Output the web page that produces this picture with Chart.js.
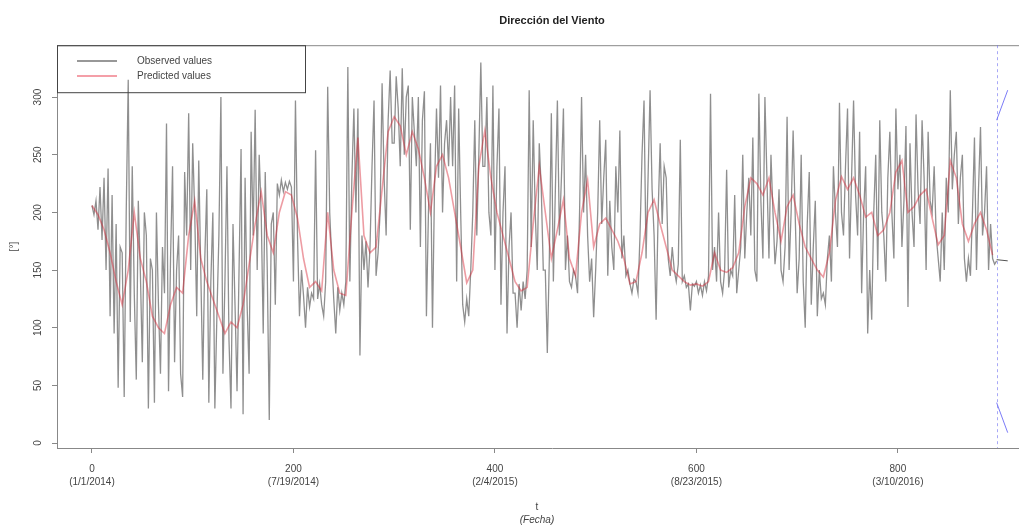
<!DOCTYPE html>
<html lang="es">
<head>
<meta charset="utf-8">
<title>Dirección del Viento</title>
<script src="https://cdn.jsdelivr.net/npm/chart.js@4.4.1/dist/chart.umd.min.js"></script>
<style>
html, body { margin: 0; padding: 0; background: #fff; overflow: hidden; }
#grafico { display: block; }
</style>
</head>
<body>
<canvas id="grafico" width="1104" height="525"></canvas>
<script>
var PASO_OBS = 2;
var PASO_PRED = 6;

// direccion observada (grados), un valor cada 2 dias desde t = 0
var observados = [
	206, 198, 210, 185, 222, 176, 230, 150, 238, 110, 215, 95, 190, 48, 170,
	165, 40, 200, 315, 105, 240, 130, 55, 210, 150, 70, 200, 180, 30, 160,
	150, 35, 200, 120, 60, 170, 130, 277, 45, 160, 240, 70, 150, 180, 60,
	40, 235, 180, 286, 150, 260, 200, 110, 245, 150, 55, 160, 220, 35, 140,
	200, 30, 110, 180, 300, 60, 140, 240, 90, 30, 190, 120, 45, 150, 255,
	25, 230, 120, 60, 270, 180, 289, 150, 250, 200, 95, 235, 150, 20, 190,
	200, 120, 225, 215, 228, 218, 226, 220, 227, 222, 140, 297, 180, 110, 150,
	128, 100, 135, 118, 130, 125, 254, 125, 138, 120, 110, 140, 309, 200, 160,
	125, 95, 135, 115, 130, 120, 140, 326, 140, 230, 290, 200, 290, 76, 180,
	150, 175, 135, 170, 240, 297, 145, 165, 200, 312, 230, 180, 280, 323, 260,
	260, 318, 290, 240, 325, 250, 300, 310, 185, 300, 270, 240, 300, 170, 280,
	305, 110, 200, 260, 100, 220, 290, 230, 310, 200, 260, 280, 240, 300, 240,
	310, 140, 290, 200, 120, 105, 125, 110, 150, 200, 280, 180, 250, 330, 240,
	240, 300, 200, 180, 310, 150, 240, 290, 120, 200, 240, 95, 170, 200, 130,
	130, 100, 138, 115, 140, 125, 150, 306, 170, 280, 200, 150, 260, 220, 150,
	150, 78, 160, 286, 140, 220, 297, 180, 230, 290, 150, 180, 140, 135, 150,
	145, 130, 200, 300, 200, 250, 180, 140, 160, 109, 150, 200, 280, 190, 230,
	263, 145, 210, 170, 150, 240, 200, 271, 160, 180, 145, 150, 138, 130, 142,
	140, 130, 180, 250, 297, 160, 230, 306, 220, 180, 107, 200, 260, 190, 240,
	230, 160, 145, 170, 150, 140, 155, 263, 140, 145, 135, 138, 115, 138, 136,
	140, 130, 137, 128, 140, 132, 145, 303, 150, 170, 140, 200, 140, 130, 150,
	237, 135, 150, 145, 215, 130, 150, 170, 250, 160, 200, 230, 180, 265, 150,
	140, 303, 210, 160, 300, 230, 160, 250, 200, 155, 175, 220, 150, 140, 170,
	283, 150, 200, 271, 200, 130, 160, 250, 140, 100, 190, 235, 120, 170, 210,
	110, 150, 125, 130, 120, 160, 180, 140, 240, 200, 170, 295, 200, 180, 240,
	290, 160, 230, 297, 215, 180, 270, 130, 200, 240, 95, 150, 107, 200, 250,
	150, 280, 200, 180, 140, 230, 270, 200, 160, 290, 220, 250, 170, 210, 275,
	118, 260, 200, 170, 285, 220, 190, 280, 230, 150, 270, 210, 200, 240, 180,
	160, 140, 200, 150, 230, 200, 306, 220, 250, 270, 190, 230, 250, 160, 140,
	160, 145, 200, 265, 150, 220, 274, 180, 200, 240, 150, 190, 160, 155, 158
];

// direccion predicha (grados), un valor cada 6 dias
var predichos = [
	206, 198, 185, 165, 140, 120, 150, 200, 160, 140,
	110, 100, 95, 120, 135, 130, 180, 210, 160, 140,
	125, 110, 95, 105, 100, 120, 155, 190, 218, 180,
	165, 200, 218, 215, 195, 160, 135, 140, 132, 200,
	150, 130, 128, 200, 265, 180, 165, 170, 220, 270,
	283, 275, 250, 270, 255, 230, 200, 240, 250, 230,
	200, 170, 139, 150, 240, 271, 230, 200, 180, 160,
	140, 132, 135, 190, 240, 200, 160, 185, 211, 160,
	145, 200, 228, 170, 190, 195, 185, 175, 160, 138,
	140, 165, 200, 211, 190, 170, 150, 145, 140, 137,
	138, 136, 140, 165, 150, 148, 152, 165, 205, 230,
	225, 215, 230, 200, 175, 205, 215, 190, 170, 160,
	150, 144, 165, 210, 231, 220, 230, 215, 196, 200,
	180, 185, 200, 235, 245, 200, 205, 215, 220, 195,
	172, 180, 245, 230, 190, 175, 190, 200, 185, 163
];

// pronostico al final de la serie
var tPronostico = [898, 909];
var pronMedia = [159, 158];
var pronSup = [280, 306];
var pronInf = [35, 9];
var tCorte = 898;

var ticksX = [0, 200, 400, 600, 800];
var fechasX = ['(1/1/2014)', '(7/19/2014)', '(2/4/2015)', '(8/23/2015)', '(3/10/2016)'];
var ticksY = [0, 50, 100, 150, 200, 250, 300];

var FONTE = '"Liberation Sans", Arial, sans-serif';

function aPuntos(valores, paso) {
	return valores.map(function(v, i) {
		return { x: i * paso, y: v };
	});
}

function paresPronostico(valores) {
	return valores.map(function(v, i) {
		return { x: tPronostico[i], y: v };
	});
}

// caja, etiquetas giradas y leyenda al estilo de R
var marcoR = {
	id: 'marcoR',
	afterDatasetsDraw: function(chart) {
		var ctx = chart.ctx;
		var area = chart.chartArea;
		var escalaX = chart.scales.x;
		var escalaY = chart.scales.y;

		ctx.save();
		ctx.strokeStyle = '#888';
		ctx.lineWidth = 1;
		ctx.beginPath();
		ctx.moveTo(area.left, area.top + 0.5);
		ctx.lineTo(area.right, area.top + 0.5);
		ctx.lineTo(area.right - 0.5, area.bottom);
		ctx.stroke();

		// linea de corte del pronostico
		var xc = Math.round(escalaX.getPixelForValue(tCorte)) + 0.5;
		ctx.strokeStyle = 'rgba(110,110,240,0.6)';
		ctx.setLineDash([3, 3]);
		ctx.beginPath();
		ctx.moveTo(xc, area.top);
		ctx.lineTo(xc, area.bottom);
		ctx.stroke();
		ctx.setLineDash([]);

		// etiquetas del eje y, verticales
		ctx.fillStyle = '#444';
		ctx.font = '10px ' + FONTE;
		ctx.textAlign = 'center';
		ctx.textBaseline = 'middle';
		ticksY.forEach(function(v) {
			var py = escalaY.getPixelForValue(v);
			ctx.save();
			ctx.translate(38, py);
			ctx.rotate(-Math.PI / 2);
			ctx.fillText(String(v), 0, 0);
			ctx.restore();
		});
		ctx.save();
		ctx.translate(14, (area.top + area.bottom) / 2);
		ctx.rotate(-Math.PI / 2);
		ctx.fillText('[°]', 0, 0);
		ctx.restore();

		// titulo del eje x
		ctx.fillText('t', 537, 507);
		ctx.font = 'italic 10px ' + FONTE;
		ctx.fillText('(Fecha)', 537, 520);

		// leyenda
		ctx.strokeStyle = '#444';
		ctx.strokeRect(area.left + 0.5, area.top + 0.5, 248, 47);
		ctx.lineWidth = 1.5;
		ctx.strokeStyle = 'rgba(60,60,60,0.7)';
		ctx.beginPath();
		ctx.moveTo(77, 61);
		ctx.lineTo(117, 61);
		ctx.stroke();
		ctx.strokeStyle = 'rgba(230,40,60,0.6)';
		ctx.beginPath();
		ctx.moveTo(77, 76);
		ctx.lineTo(117, 76);
		ctx.stroke();
		ctx.fillStyle = '#444';
		ctx.font = '10px ' + FONTE;
		ctx.textAlign = 'left';
		ctx.fillText('Observed values', 137, 61);
		ctx.fillText('Predicted values', 137, 76);
		ctx.restore();
	}
};

var grafico = new Chart(document.getElementById('grafico').getContext('2d'), {
	type: 'line',
	data: {
		datasets: [{
			label: 'Predicted values',
			data: aPuntos(predichos, PASO_PRED),
			borderColor: 'rgba(215,35,50,0.45)',
			borderWidth: 1.6,
			order: 0
		}, {
			label: 'Observed values',
			data: aPuntos(observados, PASO_OBS),
			borderColor: 'rgba(40,40,40,0.52)',
			borderWidth: 1.3,
			order: 1
		}, {
			label: 'Pronostico',
			data: paresPronostico(pronMedia),
			borderColor: 'rgba(40,40,40,0.8)',
			borderWidth: 1,
			order: 2
		}, {
			label: 'Limite superior',
			data: paresPronostico(pronSup),
			borderColor: 'rgba(90,90,245,0.8)',
			borderWidth: 1,
			order: 2
		}, {
			label: 'Limite inferior',
			data: paresPronostico(pronInf),
			borderColor: 'rgba(90,90,245,0.8)',
			borderWidth: 1,
			order: 2
		}]
	},
	options: {
		responsive: false,
		animation: false,
		devicePixelRatio: 1,
		elements: {
			point: { radius: 0 },
			line: { tension: 0, fill: false }
		},
		layout: { padding: { left: 0, right: 57, top: 0, bottom: 0 } },
		plugins: {
			legend: { display: false },
			tooltip: { enabled: false },
			title: {
				display: true,
				fullSize: false,
				text: 'Dirección del Viento',
				color: '#222',
				font: { family: FONTE, size: 11, weight: 'bold' },
				padding: { top: 14, bottom: 18 }
			}
		},
		scales: {
			x: {
				type: 'linear',
				min: -34.7,
				max: 948,
				afterBuildTicks: function(escala) {
					escala.ticks = ticksX.map(function(v) { return { value: v }; });
				},
				afterFit: function(escala) { escala.height = 77; },
				ticks: {
					autoSkip: false,
					maxRotation: 0,
					padding: 10,
					color: '#444',
					font: { family: FONTE, size: 10, lineHeight: 1.3 },
					callback: function(valor) {
						return [String(valor), fechasX[ticksX.indexOf(valor)]];
					}
				},
				grid: { drawOnChartArea: false, tickLength: 5, color: '#888' },
				border: { color: '#888' }
			},
			y: {
				type: 'linear',
				min: -4.3,
				max: 345,
				afterBuildTicks: function(escala) {
					escala.ticks = ticksY.map(function(v) { return { value: v }; });
				},
				afterFit: function(escala) { escala.width = 57; },
				ticks: {
					color: 'rgba(0,0,0,0)',
					font: { family: FONTE, size: 10 }
				},
				grid: { drawOnChartArea: false, tickLength: 5, color: '#888' },
				border: { color: '#888' }
			}
		}
	},
	plugins: [marcoR]
});
</script>
</body>
</html>
